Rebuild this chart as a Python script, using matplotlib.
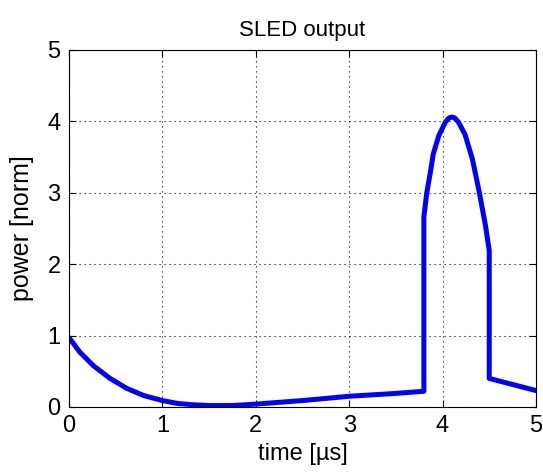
import matplotlib
matplotlib.use("Agg")
import matplotlib.pyplot as plt

plt.rcParams['font.family'] = ['Liberation Sans', 'DejaVu Sans']

# SLED output power, read in segments: charging, flip at 3.8 us, drop at 4.5 us
t = [0.0, 0.025, 0.115, 0.26, 0.44, 0.62, 0.80, 1.0, 1.16, 1.34, 1.5, 1.75,
     2.0, 2.5, 3.0, 3.5, 3.8,
     3.8, 3.83, 3.87, 3.90, 3.96, 4.03, 4.07, 4.10, 4.13, 4.17, 4.24, 4.32,
     4.39, 4.46, 4.50,
     4.50, 5.0]
p = [0.97, 0.93, 0.77, 0.58, 0.40, 0.26, 0.16, 0.09, 0.05, 0.03, 0.02, 0.02,
     0.04, 0.09, 0.15, 0.19, 0.22,
     2.66, 2.99, 3.29, 3.54, 3.80, 3.99, 4.05, 4.06, 4.05, 3.99, 3.82, 3.47,
     3.03, 2.54, 2.19,
     0.40, 0.23]

fig = plt.figure(figsize=(5.43, 4.76), dpi=100)
ax = fig.add_axes([0.127, 0.145, 0.86, 0.75])

ax.plot(t, p, color='#0000ff', linewidth=3.6, solid_joinstyle='round')

ax.set_xlim(0, 5)
ax.set_ylim(0, 5)
ax.set_xticks([0, 1, 2, 3, 4, 5])
ax.set_yticks([0, 1, 2, 3, 4, 5])
ax.grid(True, color='black', linestyle=(0, (1, 3.5)), linewidth=0.8)
ax.tick_params(direction='in', length=5, width=0.8, labelsize=17,
               top=True, right=True, pad=6)
for s in ax.spines.values():
    s.set_linewidth(0.8)

ax.set_title('SLED output', fontsize=16, pad=10)
ax.set_xlabel('time [\u00b5s]', fontsize=17, labelpad=4)
ax.set_ylabel('power [norm]', fontsize=18, labelpad=10)

fig.savefig('out.png', dpi=100)
